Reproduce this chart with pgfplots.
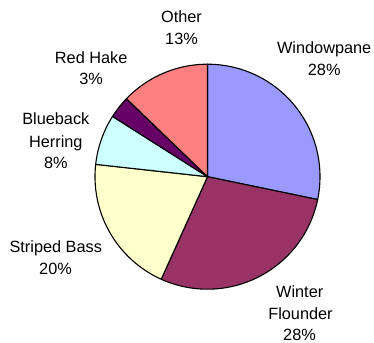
\documentclass[border=0pt]{standalone}
\usepackage{pgfplots}
\pgfplotsset{compat=1.18}
\usepackage{fontspec}
\setmainfont{Liberation Sans}
\definecolor{cWin}{HTML}{9999FF}
\definecolor{cFlo}{HTML}{993366}
\definecolor{cStr}{HTML}{FFFFCC}
\definecolor{cBlu}{HTML}{CCFFFF}
\definecolor{cRed}{HTML}{660066}
\definecolor{cOth}{HTML}{FF8080}
% shares of the pie (percent), clockwise from 12 o'clock
\def\pA{28.25}% Windowpane
\def\pB{28.5}%  Winter Flounder
\def\pC{20}%    Striped Bass
\def\pD{7.25}%  Blueback Herring
\def\pE{3.2}%   Red Hake
\def\pF{12.8}%  Other
\pgfmathsetmacro\aZ{90}
\pgfmathsetmacro\aA{\aZ-3.6*\pA}
\pgfmathsetmacro\aB{\aA-3.6*\pB}
\pgfmathsetmacro\aC{\aB-3.6*\pC}
\pgfmathsetmacro\aD{\aC-3.6*\pD}
\pgfmathsetmacro\aE{\aD-3.6*\pE}
\pgfmathsetmacro\aF{\aE-3.6*\pF}
\newcommand\pieslice[3]{%
 \addplot[fill=#1,draw=black,line width=1.1bp,line join=round,domain=#3:#2,samples=90,variable=\t]
  ({207.5+112.5*cos(\t)},{166.3+112.5*sin(\t)}) -- (axis cs:207.5,166.3) -- cycle;}
\newcommand\lbl[3]{\node[anchor=base,inner sep=0pt,font=\fontsize{16.3bp}{20bp}\selectfont] at (axis cs:#1,{343-#2}) {#3};}
\begin{document}
\begin{tikzpicture}
\begin{axis}[width=374bp,height=343bp,scale only axis,hide axis,
  xmin=0,xmax=374,ymin=0,ymax=343,clip=false,anchor=south west,at={(0,0)}]
\pieslice{cWin}{\aZ}{\aA}
\pieslice{cFlo}{\aA}{\aB}
\pieslice{cStr}{\aB}{\aC}
\pieslice{cBlu}{\aC}{\aD}
\pieslice{cRed}{\aD}{\aE}
\pieslice{cOth}{\aE}{\aF}
\lbl{181.5}{22.7}{Other}
\lbl{181.5}{45}{13\%}
\lbl{324.2}{54}{Windowpane}
\lbl{324.2}{75.7}{28\%}
\lbl{91.2}{63.3}{Red Hake}
\lbl{91.2}{85}{3\%}
\lbl{55.8}{125}{Blueback}
\lbl{55.8}{147.7}{Herring}
\lbl{55.8}{168.3}{8\%}
\lbl{55.8}{252.3}{Striped Bass}
\lbl{55.5}{274.3}{20\%}
\lbl{299.7}{297.7}{Winter}
\lbl{300.5}{319.3}{Flounder}
\lbl{299.5}{340.7}{28\%}
\end{axis}
\pgfresetboundingbox
\path[use as bounding box] (0,0) rectangle (374bp,343bp);
\end{tikzpicture}
\end{document}
